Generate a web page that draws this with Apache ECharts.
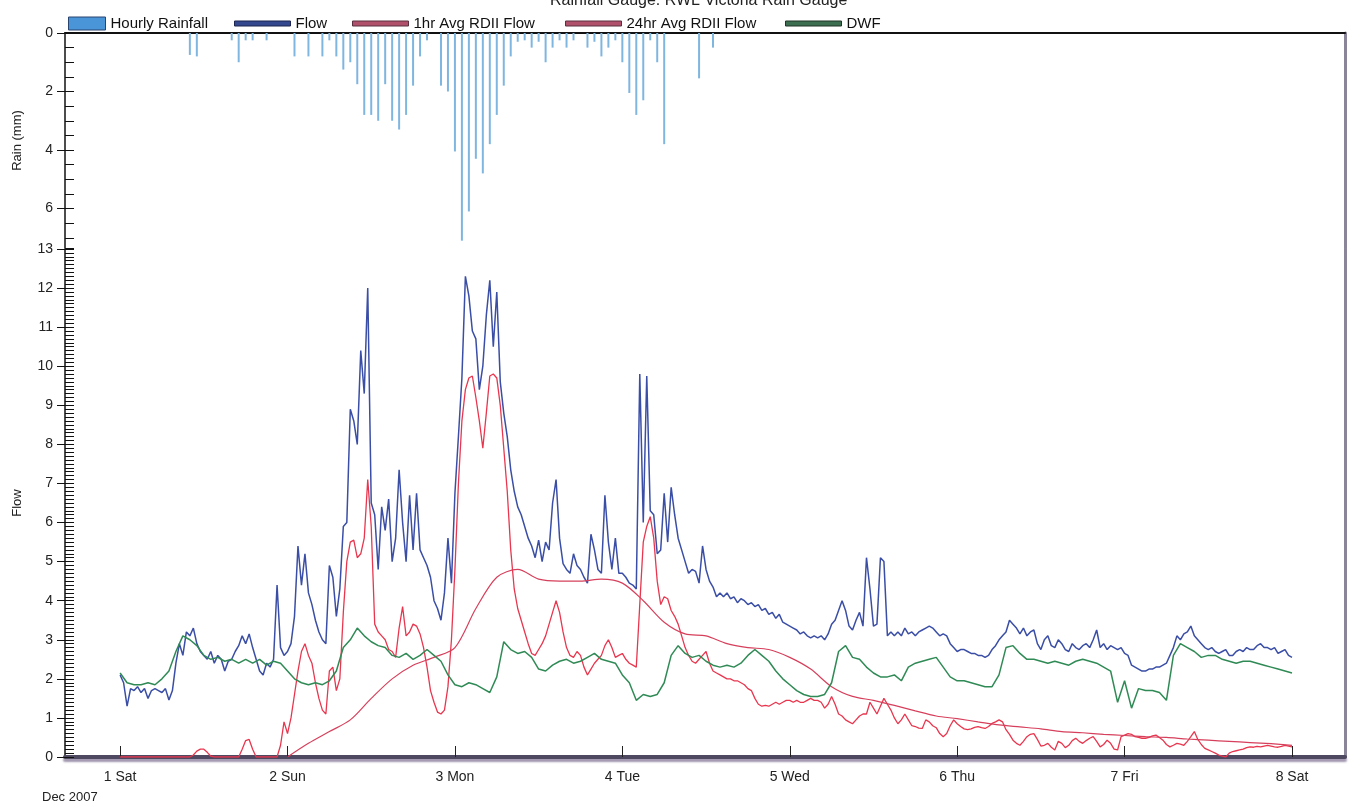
<!DOCTYPE html>
<html>
<head>
<meta charset="utf-8">
<script src="https://cdn.jsdelivr.net/npm/echarts@6/dist/echarts.min.js"></script>
<style>
html, body { margin: 0; padding: 0; background: #fff; }
#main { width: 1356px; height: 804px; }
</style>
</head>
<body>
<div id="main"></div>
<script>
// hours counted from 1 Dec 2007 00:00
var dayHours = [0, 24, 48, 72, 96, 120, 144, 168];
var dayLabels = ['1 Sat', '2 Sun', '3 Mon', '4 Tue', '5 Wed', '6 Thu', '7 Fri', '8 Sat'];

// hourly rainfall (mm), from hour 10 to hour 85
var rainStart = 10;
var rainMm = [
    0.75, 0.8, 0, 0, 0, 0, 0.25, 1.0, 0.25, 0.25, 0, 0.25, 0, 0, 0, 0.8, 0, 0.8, 0, 0.8,
    0.25, 0.8, 1.25, 1.0, 1.75, 2.8, 2.8, 3.0, 1.75, 3.0, 3.3, 2.8, 1.8, 0.8, 0.25, 0, 1.8, 2.0, 4.05, 7.1,
    6.1, 4.3, 4.8, 3.8, 2.8, 1.8, 0.8, 0.3, 0.25, 0.5, 0.3, 1.0, 0.5, 0.25, 0.5, 0.25, 0, 0.5, 0.3, 0.8,
    0.5, 0.25, 1.0, 2.05, 2.8, 2.3, 0.25, 1.0, 3.8, 0, 0, 0, 0, 1.55, 0, 0.5
];

// flow, every half hour from hour 0
var flow = [
    2.1, 1.9, 1.3, 1.75, 1.7, 1.8, 1.65, 1.75, 1.5, 1.7, 1.75, 1.7, 1.65, 1.75, 1.46, 1.7, 2.4, 2.9, 2.6, 3.2, 3.1, 3.3, 2.9, 2.7,
    2.6, 2.5, 2.7, 2.4, 2.6, 2.5, 2.2, 2.45, 2.5, 2.7, 2.85, 3.1, 2.9, 3.15, 2.8, 2.5, 2.2, 2.1, 2.4, 2.3, 2.5, 4.4, 2.8, 2.6,
    2.7, 2.9, 3.6, 5.4, 4.4, 5.2, 4.2, 3.9, 3.5, 3.2, 3.0, 2.9, 4.9, 4.6, 3.6, 4.3, 5.9, 6.0, 8.9, 8.6, 8.0, 10.4, 9.3, 12.0,
    6.5, 6.2, 4.8, 6.4, 5.8, 6.6, 5.0, 5.6, 7.35, 6.0, 5.0, 6.7, 5.3, 6.75, 5.3, 5.1, 4.9, 4.6, 4.0, 3.8, 3.5, 4.2, 5.6, 4.45,
    6.75, 8.2, 9.7, 12.3, 11.8, 10.9, 10.7, 9.4, 10.0, 11.3, 12.2, 10.5, 11.9, 9.6, 8.8, 8.2, 7.35, 6.8, 6.4, 6.2, 5.9, 5.6, 5.4, 5.1,
    5.55, 5.0, 5.5, 5.3, 6.5, 7.1, 5.6, 4.95, 4.8, 4.7, 5.2, 4.9, 4.8, 4.6, 4.45, 5.7, 5.3, 4.8, 4.7, 6.7, 5.5, 4.8, 5.6, 4.7,
    4.7, 4.6, 4.45, 4.4, 4.3, 9.8, 6.0, 9.75, 6.3, 6.2, 5.2, 5.3, 6.75, 5.5, 6.9, 6.2, 5.6, 5.3, 5.0, 4.7, 4.8, 4.75, 4.45, 5.4,
    4.8, 4.5, 4.35, 4.1, 4.2, 4.1, 4.2, 4.05, 4.1, 3.95, 4.05, 4.0, 3.9, 3.95, 3.85, 3.9, 3.75, 3.8, 3.65, 3.7, 3.55, 3.65, 3.45, 3.4,
    3.35, 3.3, 3.25, 3.15, 3.2, 3.1, 3.05, 3.1, 3.05, 3.1, 3.0, 3.15, 3.4, 3.5, 3.75, 4.0, 3.75, 3.35, 3.25, 3.5, 3.7, 3.35, 5.1, 4.3,
    3.35, 3.4, 5.1, 5.0, 3.1, 3.2, 3.1, 3.2, 3.1, 3.3, 3.15, 3.2, 3.1, 3.2, 3.25, 3.3, 3.35, 3.3, 3.2, 3.1, 3.15, 3.1, 2.9, 2.8,
    2.7, 2.75, 2.75, 2.7, 2.65, 2.65, 2.6, 2.6, 2.55, 2.6, 2.75, 2.85, 3.0, 3.1, 3.2, 3.5, 3.4, 3.3, 3.15, 3.3, 3.1, 3.2, 3.25, 2.9,
    2.75, 3.0, 3.1, 2.85, 2.8, 3.0, 2.9, 2.75, 2.7, 2.9, 2.8, 2.75, 2.85, 2.9, 2.8, 3.0, 3.25, 2.8, 2.9, 2.75, 2.85, 2.8, 2.75, 2.8,
    2.65, 2.6, 2.35, 2.3, 2.25, 2.2, 2.2, 2.25, 2.25, 2.3, 2.3, 2.35, 2.4, 2.6, 2.8, 3.1, 3.0, 3.15, 3.2, 3.35, 3.1, 3.0, 2.9, 2.8,
    2.75, 2.8, 2.7, 2.65, 2.7, 2.75, 2.6, 2.6, 2.7, 2.75, 2.7, 2.8, 2.75, 2.75, 2.85, 2.9, 2.8, 2.8, 2.75, 2.8, 2.65, 2.7, 2.75, 2.6,
    2.55
];

// 1hr average RDII flow, every half hour from hour 0
var rdii1hr = [
    0, 0, 0, 0, 0, 0, 0, 0, 0, 0, 0, 0, 0, 0, 0, 0, 0, 0, 0, 0, 0, 0.05, 0.15, 0.2,
    0.2, 0.12, 0.02, 0, 0, 0, 0, 0, 0, 0, 0, 0.2, 0.42, 0.45, 0.2, 0, 0, 0, 0, 0, 0, 0, 0.3, 0.9,
    0.6, 1.0, 1.6, 2.2, 2.7, 2.9, 2.6, 2.4, 1.9, 1.5, 1.2, 1.1, 2.2, 2.3, 1.7, 2.0, 3.7, 5.0, 5.5, 5.55, 5.1, 5.2, 5.6, 7.1,
    5.9, 3.4, 3.2, 3.1, 3.0, 2.75, 2.7, 2.55, 3.3, 3.85, 3.1, 3.2, 3.4, 3.35, 3.15, 2.8, 2.3, 1.7, 1.4, 1.15, 1.1, 1.2, 1.8, 3.0,
    4.8, 7.0, 8.6, 9.4, 9.7, 9.75, 9.2, 8.6, 7.9, 8.8, 9.75, 9.8, 9.7, 9.0, 7.9, 6.8, 5.3, 4.3, 3.8, 3.5, 3.2, 2.9, 2.65, 2.6,
    2.75, 2.9, 3.1, 3.4, 3.7, 4.0, 3.7, 3.2, 2.8, 2.6, 2.55, 2.7, 2.6, 2.3, 2.1, 2.25, 2.4, 2.5, 2.6, 2.85, 3.0, 2.8, 2.55, 2.6,
    2.65, 2.5, 2.4, 2.35, 2.3, 3.9, 5.5, 5.9, 6.15, 5.6, 4.5, 3.9, 4.1, 4.05, 3.75, 3.6, 3.4, 3.1, 2.8, 2.6, 2.45, 2.4, 2.5, 2.6,
    2.7, 2.4, 2.2, 2.15, 2.1, 2.05, 2.0, 2.0, 1.95, 1.95, 1.9, 1.85, 1.75, 1.7, 1.5, 1.35, 1.3, 1.32, 1.3, 1.35, 1.4, 1.35, 1.4, 1.45,
    1.45, 1.4, 1.45, 1.4, 1.4, 1.45, 1.5, 1.45, 1.45, 1.4, 1.25, 1.35, 1.55, 1.35, 1.1, 1.05, 0.95, 0.9, 0.85, 0.95, 1.05, 1.1, 1.1, 1.4,
    1.25, 1.1, 1.3, 1.5, 1.35, 1.2, 1.0, 0.85, 0.95, 1.1, 0.95, 0.8, 0.78, 0.74, 0.73, 0.95, 0.9, 0.8, 0.75, 0.6, 0.52, 0.6, 0.8, 0.95,
    0.85, 0.78, 0.72, 0.7, 0.72, 0.76, 0.78, 0.75, 0.73, 0.78, 0.86, 0.9, 0.95, 0.9, 0.7, 0.58, 0.43, 0.35, 0.3, 0.4, 0.52, 0.58, 0.6, 0.45,
    0.28, 0.3, 0.35, 0.25, 0.18, 0.4, 0.35, 0.24, 0.3, 0.42, 0.48, 0.4, 0.35, 0.42, 0.48, 0.52, 0.4, 0.26, 0.32, 0.43, 0.35, 0.2, 0.18, 0.52,
    0.56, 0.6, 0.58, 0.52, 0.5, 0.48, 0.48, 0.5, 0.54, 0.56, 0.5, 0.43, 0.32, 0.26, 0.3, 0.35, 0.33, 0.3, 0.4, 0.52, 0.65, 0.45, 0.32, 0.22,
    0.18, 0.14, 0.1, 0.05, 0.02, 0.0, 0.1, 0.14, 0.16, 0.18, 0.2, 0.24, 0.26, 0.25, 0.27, 0.26, 0.28, 0.3, 0.28, 0.26, 0.25, 0.27, 0.3, 0.28,
    0.26
];

// 24hr average RDII flow, every 3 hours from hour 24
var rdii24Start = 24;
var rdii24hr = [
    0.0, 0.35, 0.65, 0.95, 1.5, 2.0, 2.35, 2.55, 2.8, 3.8, 4.6, 4.8, 4.55, 4.5, 4.5, 4.55, 4.45, 4.0, 3.45, 3.15,
    3.1, 2.9, 2.8, 2.75, 2.55, 2.25, 1.8, 1.55, 1.45, 1.32, 1.18, 1.05, 0.98, 0.9, 0.82, 0.77, 0.72, 0.65, 0.62, 0.58,
    0.55, 0.52, 0.5, 0.46, 0.43, 0.4, 0.37, 0.34, 0.3
];

// dry weather flow, hourly from hour 0
var dwf = [
    2.15, 1.9, 1.85, 1.85, 1.9, 1.85, 2.0, 2.2, 2.7, 3.1, 3.0, 2.85, 2.6, 2.5, 2.55, 2.45, 2.5, 2.4, 2.5, 2.4, 2.5, 2.35, 2.45, 2.4,
    2.2, 2.0, 1.9, 1.85, 1.9, 1.85, 1.95, 2.2, 2.8, 3.0, 3.3, 3.1, 2.95, 2.85, 2.8, 2.6, 2.55, 2.65, 2.5, 2.6, 2.75, 2.6, 2.45, 2.1,
    1.85, 1.8, 1.9, 1.85, 1.75, 1.65, 2.05, 2.95, 2.75, 2.65, 2.7, 2.55, 2.25, 2.2, 2.35, 2.45, 2.5, 2.4, 2.45, 2.55, 2.65, 2.5, 2.45, 2.4,
    2.1, 1.9, 1.45, 1.6, 1.55, 1.6, 1.9, 2.6, 2.85, 2.65, 2.55, 2.6, 2.45, 2.35, 2.3, 2.35, 2.3, 2.4, 2.6, 2.75, 2.6, 2.45, 2.2, 2.0,
    1.85, 1.7, 1.6, 1.55, 1.55, 1.6, 1.9, 2.7, 2.85, 2.55, 2.5, 2.3, 2.15, 2.05, 2.05, 2.1, 1.95, 2.3, 2.4, 2.45, 2.5, 2.55, 2.3, 2.05,
    1.95, 1.95, 1.9, 1.85, 1.8, 1.8, 2.1, 2.8, 2.85, 2.65, 2.5, 2.5, 2.45, 2.4, 2.45, 2.4, 2.35, 2.45, 2.5, 2.45, 2.4, 2.3, 2.2, 1.4,
    1.95, 1.25, 1.75, 1.7, 1.7, 1.65, 1.45, 2.6, 2.9, 2.8, 2.7, 2.55, 2.6, 2.6, 2.5, 2.45, 2.4, 2.45, 2.45, 2.4, 2.35, 2.3, 2.25, 2.2,
    2.15
];

function pairs(values, start, step) {
    return values.map(function (v, i) { return [start + i * step, v]; });
}

var FONT = 'Liberation Sans, Arial, sans-serif';
var XMIN = -7.9, XMAX = 175.6;

// one legend box per entry so each sits where the original put it
function legendBox(name, left, color, border, w, h) {
    return {
        data: [{ name: name, itemStyle: { color: color, borderColor: border, borderWidth: 1 } }],
        left: left, top: 11,
        icon: 'rect', itemWidth: w, itemHeight: h, itemGap: 7,
        textStyle: { fontSize: 15, color: '#111', fontFamily: FONT }
    };
}

var myChart = echarts.init(document.getElementById('main'));

var option = {
    animation: false,
    backgroundColor: '#fff',
    textStyle: { fontFamily: FONT },
    title: {
        text: 'Rainfall Gauge: RWL Victoria Rain Gauge',
        left: 545,
        top: -12,
        textStyle: { fontSize: 16, fontWeight: 'normal', color: '#222', fontFamily: FONT }
    },
    legend: [
        legendBox('Hourly Rainfall', 63, '#4a94d8', '#2a4470', 37, 13),
        legendBox('Flow', 229, '#34488f', '#1c2550', 56, 5),
        legendBox('1hr Avg RDII Flow', 347, '#b0506a', '#5a3040', 56, 5),
        legendBox('24hr Avg RDII Flow', 560, '#b0506a', '#5a3040', 56, 5),
        legendBox('DWF', 780, '#3c6e50', '#1e3526', 56, 5)
    ],
    grid: [
        { left: 65, right: 11, top: 33, height: 215 },
        { left: 65, right: 11, top: 249, height: 508 }
    ],
    xAxis: [
        {
            gridIndex: 0, type: 'value', min: XMIN, max: XMAX, position: 'top',
            axisLine: { show: true, onZero: false, lineStyle: { color: '#111', width: 2 } },
            axisTick: { show: false }, axisLabel: { show: false }, splitLine: { show: false }
        },
        {
            gridIndex: 1, type: 'value', min: XMIN, max: XMAX, position: 'bottom',
            axisLine: {
                show: true, onZero: false,
                lineStyle: { color: '#4e4860', width: 4, shadowColor: 'rgba(120,105,140,0.7)', shadowOffsetY: 3, shadowBlur: 2 }
            },
            axisTick: { show: true, inside: true, length: 11, customValues: dayHours, lineStyle: { color: '#222', width: 1 } },
            axisLabel: {
                customValues: dayHours, margin: 13, color: '#222', fontSize: 14, fontFamily: FONT,
                formatter: function (v) { return dayLabels[Math.round(v / 24)]; }
            },
            splitLine: { show: false }
        }
    ],
    yAxis: [
        {
            gridIndex: 0, type: 'value', position: 'left', inverse: true, min: 0, max: 7.35, interval: 2,
            name: 'Rain (mm)', nameLocation: 'middle', nameGap: 41, nameRotate: 90,
            nameTextStyle: { fontSize: 13, color: '#222', fontFamily: FONT },
            axisLine: { show: true, onZero: false, lineStyle: { color: '#111', width: 1.5 } },
            axisTick: { show: true, length: 8, lineStyle: { color: '#111' } },
            axisLabel: { color: '#222', fontSize: 14, margin: 12, showMaxLabel: false, fontFamily: FONT },
            splitLine: { show: false }
        },
        {
            gridIndex: 0, type: 'value', position: 'left', inverse: true, min: 0, max: 7.35, interval: 2,
            axisLine: { show: false, onZero: false },
            axisTick: { show: true, inside: true, length: 9, lineStyle: { color: '#111' } },
            minorTick: { show: true, splitNumber: 4, length: 9, lineStyle: { color: '#111' } },
            axisLabel: { show: false }, splitLine: { show: false }
        },
        {
            gridIndex: 1, type: 'value', position: 'left', min: 0, max: 13, interval: 1,
            name: 'Flow', nameLocation: 'middle', nameGap: 41, nameRotate: 90,
            nameTextStyle: { fontSize: 13, color: '#222', fontFamily: FONT },
            axisLine: { show: true, onZero: false, lineStyle: { color: '#111', width: 1.5 } },
            axisTick: { show: true, length: 8, lineStyle: { color: '#111' } },
            axisLabel: { color: '#222', fontSize: 14, margin: 12, fontFamily: FONT },
            splitLine: { show: false }
        },
        {
            gridIndex: 1, type: 'value', position: 'left', min: 0, max: 13, interval: 1,
            axisLine: { show: false, onZero: false },
            axisTick: { show: true, inside: true, length: 9, lineStyle: { color: '#111' } },
            minorTick: { show: true, splitNumber: 10, length: 9, lineStyle: { color: '#111' } },
            axisLabel: { show: false }, splitLine: { show: false }
        },
        {
            gridIndex: 0, type: 'value', position: 'right', min: 0, max: 1,
            axisLine: { show: true, onZero: false, lineStyle: { color: '#8a8598', width: 3 } },
            axisTick: { show: false }, axisLabel: { show: false }, splitLine: { show: false }
        },
        {
            gridIndex: 1, type: 'value', position: 'right', min: 0, max: 1,
            axisLine: { show: true, onZero: false, lineStyle: { color: '#8a8598', width: 3 } },
            axisTick: { show: false }, axisLabel: { show: false }, splitLine: { show: false }
        }
    ],
    graphic: [
        { type: 'text', left: 42, top: 791, style: { text: 'Dec 2007', fill: '#222', font: '13px ' + FONT } }
    ],
    series: [
        {
            name: 'Hourly Rainfall', type: 'bar', xAxisIndex: 0, yAxisIndex: 0,
            barWidth: 2, itemStyle: { color: '#7fb6e0' },
            data: pairs(rainMm, rainStart, 1)
        },
        {
            name: 'Flow', type: 'line', xAxisIndex: 1, yAxisIndex: 2,
            showSymbol: false, lineStyle: { color: '#3a4ea6', width: 1.5 },
            itemStyle: { color: '#34488f' },
            data: pairs(flow, 0, 0.5)
        },
        {
            name: '1hr Avg RDII Flow', type: 'line', xAxisIndex: 1, yAxisIndex: 2,
            showSymbol: false, lineStyle: { color: '#e8364e', width: 1.3 },
            itemStyle: { color: '#b0506a' },
            data: pairs(rdii1hr, 0, 0.5)
        },
        {
            name: '24hr Avg RDII Flow', type: 'line', xAxisIndex: 1, yAxisIndex: 2,
            showSymbol: false, smooth: 0.3, lineStyle: { color: '#d6405c', width: 1.2 },
            itemStyle: { color: '#b0506a' },
            data: pairs(rdii24hr, rdii24Start, 3)
        },
        {
            name: 'DWF', type: 'line', xAxisIndex: 1, yAxisIndex: 2,
            showSymbol: false, lineStyle: { color: '#2f8a55', width: 1.5 },
            itemStyle: { color: '#3c6e50' },
            data: pairs(dwf, 0, 1)
        }
    ]
};

myChart.setOption(option);
</script>
</body>
</html>
